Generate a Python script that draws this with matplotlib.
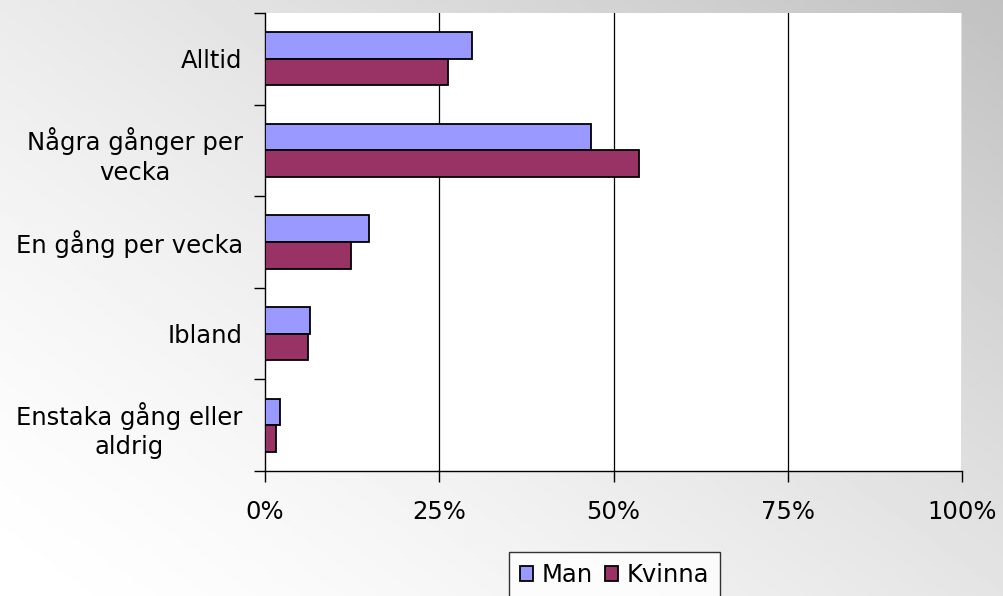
import numpy as np
import matplotlib
matplotlib.use("Agg")
import matplotlib.pyplot as plt
from matplotlib.patches import Patch

categories = ["Alltid", "Några gånger per\nvecka", "En gång per vecka", "Ibland", "Enstaka gång eller\naldrig"]
man = [29.7, 46.8, 14.9, 6.4, 2.2]
kvinna = [26.2, 53.7, 12.4, 6.1, 1.6]
series_names = ["Man", "Kvinna"]
xticks = [0, 25, 50, 75, 100]
xticklabels = ["0%", "25%", "50%", "75%", "100%"]

W, H = 1004, 596
fig = plt.figure(figsize=(W / 100, H / 100), dpi=100)
plt.rcParams['font.family'] = ['DejaVu Sans']
FS = 17.5

# background gradient
bg = fig.add_axes([0, 0, 1, 1], zorder=-10)
yy, xx = np.mgrid[0:1:300j, 0:1:500j]  # yy: 0 top -> 1 bottom
t = 0.55 * xx + 0.45 * (1 - yy)
v = 1.0 - (62 / 255) * t ** 1.4
bg.imshow(v, cmap="gray", vmin=0, vmax=1, aspect="auto", extent=[0, 1, 0, 1], origin="upper")
bg.axis("off")

left, right, top, bottom = 265 / W, 962 / W, 1 - 13 / H, 1 - 471 / H
ax = fig.add_axes([left, bottom, right - left, top - bottom])
ax.set_facecolor("white")

n = len(categories)
pos = np.arange(n)
h = 0.29
ax.barh(pos - h / 2, man, height=h, color="#9999FF", edgecolor="black", linewidth=1.3, zorder=3)
ax.barh(pos + h / 2, kvinna, height=h, color="#993366", edgecolor="black", linewidth=1.3, zorder=3)

ax.set_xlim(0, 100)
ax.set_ylim(n - 0.5, -0.5)
ax.set_xticks(xticks)
ax.set_xticklabels(xticklabels, fontsize=FS)
ax.set_yticks(np.arange(n + 1) - 0.5, minor=False)
ax.set_yticklabels([])
ax.set_yticks(pos, minor=True)
ax.set_yticklabels(categories, minor=True, fontsize=FS, multialignment="center", linespacing=1.3)
ax.tick_params(axis="y", which="minor", length=0, pad=16)
ax.tick_params(axis="y", which="major", length=8, width=1, direction="out")
ax.tick_params(axis="x", length=8, width=1, direction="out", pad=13)
for x in xticks[1:]:
    ax.axvline(x, color="black", linewidth=0.9, zorder=1)
for s in ["top", "right"]:
    ax.spines[s].set_visible(False)
for s in ["left", "bottom"]:
    ax.spines[s].set_linewidth(1.0)
    ax.spines[s].set_color("black")

handles = [Patch(facecolor="#9999FF", edgecolor="black", linewidth=1.3),
           Patch(facecolor="#993366", edgecolor="black", linewidth=1.3)]
leg = fig.legend(handles, series_names, loc="upper left",
                 bbox_to_anchor=(509 / W, 1 - 552 / H), ncol=2, fontsize=FS,
                 frameon=True, fancybox=False, shadow=False, borderpad=0.45,
                 handlelength=0.55, handleheight=0.55, handletextpad=0.35,
                 columnspacing=0.5, borderaxespad=0)
leg.get_frame().set_edgecolor("black")
leg.get_frame().set_linewidth(1.0)
leg.get_frame().set_facecolor("white")

fig.savefig("out.png", dpi=100)
